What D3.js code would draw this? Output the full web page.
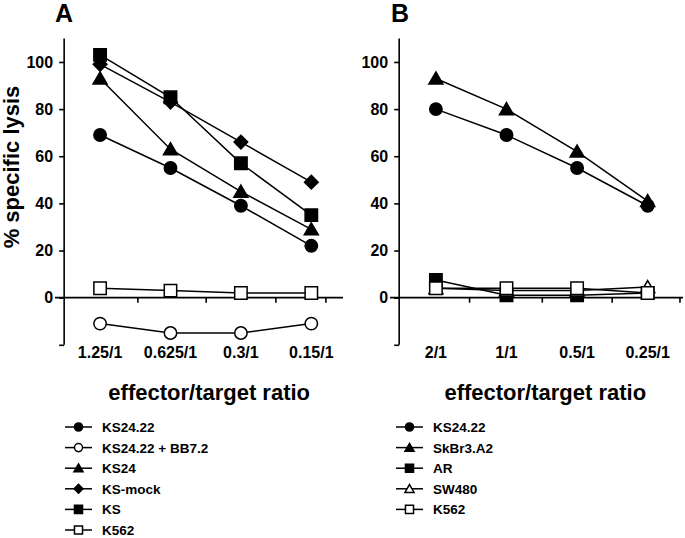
<!DOCTYPE html>
<html>
<head>
<meta charset="utf-8">
<script src="https://cdn.jsdelivr.net/npm/d3@7"></script>
<style>
  html, body { margin: 0; padding: 0; background: #fff; }
  svg { display: block; font-family: "Liberation Sans", Arial, sans-serif; font-weight: bold; }
</style>
</head>
<body>
<svg id="chart" width="685" height="538"></svg>
<script>
// ---- DATA ----
const ratiosA = ["1.25/1", "0.625/1", "0.3/1", "0.15/1"];
const ratiosB = ["2/1", "1/1", "0.5/1", "0.25/1"];
const yTicks = [-20, 0, 20, 40, 60, 80, 100];
const yTickLabels = ["", "0", "20", "40", "60", "80", "100"];

const ks2422A   = [69, 55, 39, 22];
const ks2422bbA = [-11, -15, -15, -11];
const ks24A     = [93, 63, 45, 29];
const ksMockA   = [99, 83, 66, 49];
const ksA       = [103, 85, 57, 35];
const k562A     = [4, 3, 2, 2];

const ks2422B   = [80, 69, 55, 39];
const skbr3B    = [93, 80, 62, 41];
const arB       = [7.5, 1, 1, 2];
const sw480B    = [4, 3, 3, 4.5];
const k562B     = [4, 4, 4, 2];

const seriesA = [
  { name: "KS24.22", values: ks2422A, shape: "circle", fill: true },
  { name: "KS24.22 + BB7.2", values: ks2422bbA, shape: "circle", fill: false },
  { name: "KS24", values: ks24A, shape: "triangle", fill: true },
  { name: "KS-mock", values: ksMockA, shape: "diamond", fill: true },
  { name: "KS", values: ksA, shape: "square", fill: true },
  { name: "K562", values: k562A, shape: "square", fill: false }
];
const drawOrderA = [5, 1, 0, 2, 3, 4];

const seriesB = [
  { name: "KS24.22", values: ks2422B, shape: "circle", fill: true },
  { name: "SkBr3.A2", values: skbr3B, shape: "triangle", fill: true },
  { name: "AR", values: arB, shape: "square", fill: true },
  { name: "SW480", values: sw480B, shape: "triangle", fill: false },
  { name: "K562", values: k562B, shape: "square", fill: false }
];
const drawOrderB = [2, 3, 4, 0, 1];

// ---- DRAWING ----
const svg = d3.select("#chart");

function markerPath(shape, s) {
  if (shape === "circle") {
    const r = 6.2 * s;
    return `M${-r},0A${r},${r} 0 1,0 ${r},0A${r},${r} 0 1,0 ${-r},0Z`;
  }
  if (shape === "square") {
    const h = 6.2 * s;
    return `M${-h},${-h}H${h}V${h}H${-h}Z`;
  }
  if (shape === "triangle") {
    const w = 7 * s, h = 6.5 * s;
    return `M0,${-h}L${w},${h*0.85}L${-w},${h*0.85}Z`;
  }
  if (shape === "diamond") {
    const d = 6.8 * s;
    return `M0,${-d}L${d},0L0,${d}L${-d},0Z`;
  }
}

function drawMarker(g, shape, fill, x, y, s) {
  g.append("path")
    .attr("d", markerPath(shape, s))
    .attr("transform", `translate(${x},${y})`)
    .attr("fill", fill ? "#000" : "#fff")
    .attr("stroke", "#000")
    .attr("stroke-width", 1.5);
}

function drawPanel(cfg) {
  const g = svg.append("g");
  const x = d3.scaleLinear().domain(cfg.xDomain).range(cfg.xRange);
  const y = d3.scaleLinear().domain([-20, 110]).range([344.8, 38.4]);

  // y axis
  const yAxisX = x(cfg.yAxisAt);
  g.append("line").attr("x1", yAxisX).attr("x2", yAxisX)
    .attr("y1", y(110)).attr("y2", y(-20))
    .attr("stroke", "#000").attr("stroke-width", 1.6);
  const yAxis = d3.axisLeft(y).tickValues(yTicks)
    .tickFormat((d, i) => yTickLabels[i]).tickSize(5).tickPadding(6);
  const ya = g.append("g").attr("transform", `translate(${yAxisX},0)`).call(yAxis);
  ya.select(".domain").remove();
  ya.selectAll("line").attr("stroke-width", 1.6);
  ya.selectAll("text").attr("font-size", 16).attr("font-weight", "bold")
    .attr("font-family", "Liberation Sans, Arial, sans-serif").attr("fill", "#000");

  // x axis at y = 0
  const xAxis = d3.axisBottom(x).tickValues(cfg.xTickPos).tickFormat("").tickSize(5);
  const xa = g.append("g").attr("transform", `translate(0,${y(0)})`).call(xAxis);
  xa.select(".domain").attr("d", `M${cfg.xRange[0]},0H${cfg.xRange[1]}`).attr("stroke-width", 1.6);
  xa.selectAll("line").attr("stroke-width", 1.6);

  // category labels
  g.selectAll("text.cat").data(cfg.cats).enter().append("text")
    .attr("class", "cat")
    .attr("x", (d, i) => x(i)).attr("y", 357.5)
    .attr("text-anchor", "middle").attr("font-size", 16).attr("fill", "#000")
    .text(d => d);

  // axis title
  g.append("text").attr("x", (x(0) + x(3)) / 2 + 3.5).attr("y", 400)
    .attr("text-anchor", "middle").attr("font-size", 22).attr("fill", "#000")
    .text("effector/target ratio");

  // panel letter
  g.append("text").attr("x", cfg.letterX).attr("y", 22)
    .attr("font-size", 25).attr("fill", "#000").text(cfg.letter);

  // series
  const line = d3.line().x((d, i) => x(i)).y(d => y(d));
  cfg.order.forEach(k => {
    const s = cfg.series[k];
    g.append("path").attr("d", line(s.values))
      .attr("fill", "none").attr("stroke", "#000").attr("stroke-width", 1.5);
  });
  cfg.order.forEach(k => {
    const s = cfg.series[k];
    s.values.forEach((v, i) => drawMarker(g, s.shape, s.fill, x(i), y(v), 1));
  });

  // legend
  const lg = g.append("g");
  cfg.series.forEach((s, i) => {
    const ly = 427 + i * 20.6;
    lg.append("line").attr("x1", cfg.legX).attr("x2", cfg.legX + 27)
      .attr("y1", ly).attr("y2", ly).attr("stroke", "#000").attr("stroke-width", 1.5);
    drawMarker(lg, s.shape, s.fill, cfg.legX + 13.5, ly, 0.65);
    lg.append("text").attr("x", cfg.legX + 37).attr("y", ly + 5)
      .attr("font-size", 13.5).attr("fill", "#000").text(s.name);
  });
}

drawPanel({
  cats: ratiosA, series: seriesA, order: drawOrderA,
  xDomain: [-0.64, 3.45], xRange: [55, 343], yAxisAt: -0.51,
  xTickPos: [0.53, 1.5, 2.49, 3.2],
  letter: "A", letterX: 55, legX: 65
});
drawPanel({
  cats: ratiosB, series: seriesB, order: drawOrderB,
  xDomain: [-0.65, 3.5], xRange: [390, 683], yAxisAt: -0.52,
  xTickPos: [0.47, 1.5, 2.49, 3.45],
  letter: "B", letterX: 391, legX: 396
});

// y axis title
svg.append("text")
  .attr("transform", "translate(19,167) rotate(-90)")
  .attr("text-anchor", "middle").attr("font-size", 22).attr("fill", "#000")
  .text("% specific lysis");
</script>
</body>
</html>
